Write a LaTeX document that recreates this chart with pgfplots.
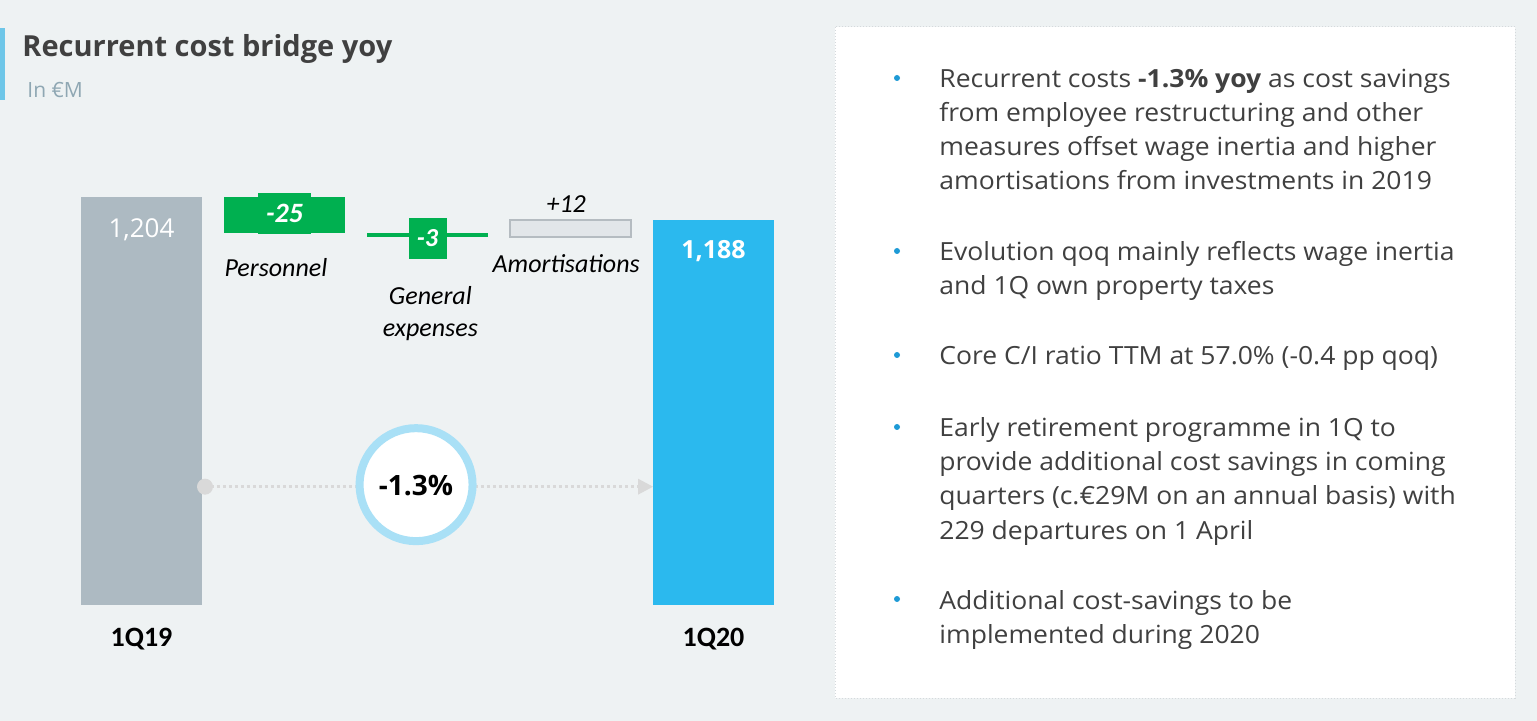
\documentclass[border=0pt]{standalone}
\usepackage{fontspec}
\setmainfont{Open Sans}
\newfontfamily\calfont{Carlito}
\newfontfamily\bodyfont{Open Sans}[FakeStretch=1.06]
\newfontfamily\titlefont{Open Sans}
\usepackage{pgfplots}
\pgfplotsset{compat=1.18}
\definecolor{bgc}{HTML}{EEF2F3}
\definecolor{accent}{HTML}{6EC6E8}
\definecolor{titlec}{HTML}{404040}
\definecolor{subc}{HTML}{8FA7B3}
\definecolor{panelborder}{HTML}{D5D9DC}
\definecolor{bodyc}{HTML}{404040}
\definecolor{bulletc}{HTML}{1E9AD6}
\definecolor{grayb}{HTML}{ADBAC2}
\definecolor{blueb}{HTML}{2BB9EE}
\definecolor{greenb}{HTML}{00B050}
\definecolor{amfill}{HTML}{E2E6E9}
\definecolor{amdraw}{HTML}{B5BCC1}
\definecolor{ringc}{HTML}{A9E0F6}
\definecolor{dotc}{HTML}{D9D9D9}
\newcommand\bl[2]{\node[anchor=base west, inner sep=0pt, text=bodyc, font=\bodyfont\fontsize{12.5}{14}\selectfont] at (939,#1) {#2};}
\begin{document}
\begin{tikzpicture}
\begin{scope}[x=0.5pt,y=-0.5pt]
\useasboundingbox (0,0) rectangle (1537,721);
\fill[bgc] (0,0) rectangle (1537,721);
\fill[accent] (0,28) rectangle (5,100);
\node[anchor=base west, inner sep=0pt, text=titlec, font=\titlefont\bfseries\fontsize{14.5}{17}\selectfont] at (22,57) {Recurrent cost bridge yoy};
\node[anchor=base west, inner sep=0pt, text=subc, font=\fontsize{10.5}{12}\selectfont] at (27,98) {In €M};
\fill[white] (835,27) rectangle (1515,698);
\draw[panelborder, densely dotted, line width=0.5pt] (835,27) rectangle (1515,698);
\foreach \yy in {78,251,355,427,599} {\fill[bulletc] (897,\yy) circle (1.5pt);}
\bl{88}{Recurrent costs \textbf{-1.3\% yoy} as cost savings}
\bl{122}{from employee restructuring and other}
\bl{156}{measures offset wage inertia and higher}
\bl{190}{amortisations from investments in 2019}
\bl{261}{Evolution qoq mainly reflects wage inertia}
\bl{295}{and 1Q own property taxes}
\bl{365}{Core C/I ratio TTM at 57.0\% (-0.4 pp qoq)}
\bl{437}{Early retirement programme in 1Q to}
\bl{471}{provide additional cost savings in coming}
\bl{505}{quarters (c.€29M on an annual basis) with}
\bl{539}{229 departures on 1 April}
\bl{609}{Additional cost-savings to be}
\bl{643}{implemented during 2020}
\end{scope}
\begin{axis}[
  at={(35pt,-302.5pt)}, anchor=south west,
  scale only axis, x=71.5pt, y=0.71875pt,
  xmin=-0.5, xmax=4.5, ymin=920, ymax=1240,
  ybar stacked, bar width=60.5pt,
  stack negative=on previous,
  reverse stacked plots=false,
  axis line style={draw=none},
  xtick={0,4}, xticklabels={1Q19,1Q20}, ytick=\empty,
  major tick length=0pt,
  xticklabel style={font=\calfont\bfseries\fontsize{14}{16}\selectfont, text=black, anchor=base, inner sep=0pt, yshift=-21pt},
]
% running base (invisible)
\addplot[fill=none, draw=none] coordinates {(0,0) (1,1204) (2,1179) (3,1176) (4,0)};
% Amortisations +12
\addplot[fill=amfill, draw=amdraw, line width=0.8pt] coordinates {(0,0) (1,0) (2,0) (3,12) (4,0)};
% Personnel -25
\addplot[fill=greenb, draw=none] coordinates {(0,0) (1,-25) (2,0) (3,0) (4,0)};
% General expenses -3
\addplot[fill=greenb, draw=none] coordinates {(0,0) (1,0) (2,-3) (3,0) (4,0)};
% 1Q19
\addplot[fill=grayb, draw=none] coordinates {(0,1204) (1,0) (2,0) (3,0) (4,0)};
% 1Q20
\addplot[fill=blueb, draw=none] coordinates {(0,0) (1,0) (2,0) (3,0) (4,1188)};

% labels
\node[fill=greenb, minimum width=26.5pt, minimum height=20.5pt, inner sep=0pt, text=white, font=\calfont\bfseries\itshape\fontsize{14}{16}\selectfont] at (axis cs:1,1192.5) {-25};
\node[fill=greenb, minimum width=19pt, minimum height=20.5pt, inner sep=0pt, text=white, font=\calfont\bfseries\itshape\fontsize{13}{15}\selectfont] at (axis cs:2,1175.1) {-3};
\node[text=black, inner sep=0pt, font=\calfont\itshape\fontsize{13}{15}\selectfont] at (axis cs:2.97,1199.1) {+12};
\node[text=black, inner sep=0pt, font=\calfont\itshape\fontsize{13}{15}\selectfont] at (axis cs:0.94,1154.6) {Personnel};
\node[text=black, inner sep=0pt, align=center, font=\calfont\itshape\fontsize{13}{16}\selectfont] at (axis cs:2.02,1122.6) {General\\expenses};
\node[text=black, inner sep=0pt, font=\calfont\itshape\fontsize{13}{15}\selectfont] at (axis cs:2.97,1157.4) {Amortisations};
\node[anchor=base, text=white, inner sep=0pt, font=\fontsize{13}{15}\selectfont] at (axis cs:0,1175.5) {1,204};
\node[anchor=base, text=white, inner sep=0pt, font=\bfseries\fontsize{12.5}{15}\selectfont] at (axis cs:4,1160.7) {1,188};

% bridge line and circle
\draw[dotc, line width=1.5pt, dash pattern=on 1.5pt off 1.5pt] (axis cs:0.444,1002.3) -- (axis cs:3.5,1002.3);
\fill[dotc] (axis cs:0.444,1002.3) circle (4pt);
\fill[dotc] (axis cs:3.577,1002.3) -- ([xshift=-7.5pt,yshift=4pt]axis cs:3.577,1002.3) -- ([xshift=-7.5pt,yshift=-4pt]axis cs:3.577,1002.3) -- cycle;
\draw[ringc, line width=4pt, fill=white] (axis cs:1.92,1003.7) circle (28.25pt);
\node[text=black, inner sep=0pt, font=\bfseries\fontsize{14}{16}\selectfont] at (axis cs:1.92,1003.0) {-1.3\%};
\end{axis}
\end{tikzpicture}
\end{document}
